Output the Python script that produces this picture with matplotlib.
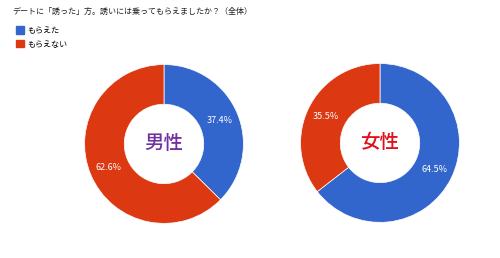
import matplotlib.pyplot as plt
from matplotlib.patches import Patch

plt.rcParams['font.family'] = ['Noto Sans CJK JP', 'DejaVu Sans']

title = "デートに「誘った」方。誘いには乗ってもらえましたか？（全体）"
categories = ["もらえた", "もらえない"]
colors = ["#3366cc", "#dc3912"]
male = [37.4, 62.6]
female = [64.5, 35.5]

fig = plt.figure(figsize=(5, 2.58), dpi=100)
fig.text(0.024, 0.955, title, fontsize=5.8, va="center", ha="left", color="#222222")

handles = [Patch(color=c) for c in colors]
fig.legend(handles, categories, loc="upper left", bbox_to_anchor=(0.032, 0.9),
           frameon=False, fontsize=5.8, handlelength=1.0, handleheight=1.0,
           handletextpad=0.4, labelspacing=0.6, borderaxespad=0, borderpad=0)

def donut(rect, values, label, label_color):
    ax = fig.add_axes(rect)
    ax.pie(values, colors=colors, startangle=90, counterclock=False,
           autopct="%.1f%%", pctdistance=0.76,
           wedgeprops=dict(width=0.5, edgecolor="white", linewidth=0.5),
           textprops=dict(color="white", fontsize=6.5))
    ax.text(0, 0, label, ha="center", va="center", fontsize=14,
            fontweight="medium", color=label_color)
    ax.set_xlim(-1.02, 1.02)
    ax.set_ylim(-1.02, 1.02)
    ax.set_aspect("equal")
    ax.axis("off")

donut([0.166, 0.128, 0.324, 0.628], male, "男性", "#7030a0")
donut([0.598, 0.132, 0.324, 0.628], female, "女性", "#e0101a")

fig.savefig("out.png", dpi=100)
